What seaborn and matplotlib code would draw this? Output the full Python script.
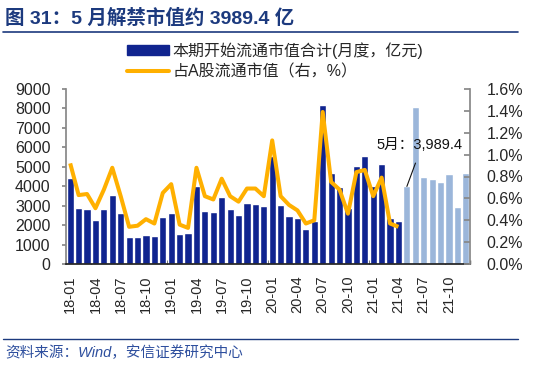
import numpy as np
import pandas as pd
import matplotlib
matplotlib.use("Agg")
import matplotlib.pyplot as plt
import seaborn as sns
from matplotlib.patches import Patch
from matplotlib.lines import Line2D
from matplotlib.ticker import FuncFormatter, FixedLocator

months = [f"{y}-{m:02d}" for y in (18, 19, 20, 21) for m in range(1, 13)]
unlock_value = [4400, 2880, 2820, 2240, 2850, 3530, 2610, 1380, 1390, 1500, 1420, 2400,
                2640, 1550, 1590, 4010, 2740, 2670, 3430, 2810, 2520, 3120, 3090, 2970,
                5560, 3040, 2490, 2390, 1780, 2220, 8175, 4660, 3975, 2900, 5040, 5570,
                4010, 5130, 2370, 2230, 3989.4, 8055, 4456, 4390, 4200, 4610, 2914, 4660]
n_actual = 40
share_pct = [0.92, 0.63, 0.64, 0.51, 0.68, 0.88, 0.62, 0.34, 0.35, 0.41, 0.37, 0.65,
             0.73, 0.36, 0.33, 0.88, 0.62, 0.59, 0.78, 0.62, 0.57, 0.69, 0.69, 0.62,
             1.13, 0.62, 0.54, 0.49, 0.37, 0.40, 1.39, 0.75, 0.68, 0.46, 0.84, 0.86,
             0.62, 0.79, 0.37, 0.34]
title = "图 31：5 月解禁市值约 3989.4 亿"
bar_label = "本期开始流通市值合计(月度，亿元)"
line_label = "占A股流通市值（右，%）"
source = "资料来源：Wind，安信证券研究中心"
annot = "5月：3,989.4"

DARK = "#10248F"
LIGHT = "#9BB6DA"
ORANGE = "#FFB000"
NAVY = "#1C3A7E"

sns.set_theme(style="white")
plt.rcParams["font.family"] = ["Liberation Sans", "Noto Sans CJK SC", "DejaVu Sans"]

fig = plt.figure(figsize=(5.39, 3.75), dpi=100)
ax = fig.add_axes([66/539, 1-264/375, (470-66)/539, 175/375])

df = pd.DataFrame({"month": months, "value": unlock_value})
colors = [DARK if i < n_actual else LIGHT for i in range(len(months))]
sns.barplot(data=df, x="month", y="value", hue="month", palette=colors,
            legend=False, width=0.86, ax=ax, saturation=1)
ax.set_xlim(-0.5, len(months) - 0.5)
ax.set_ylim(0, 9000)
ax.set_yticks(np.arange(0, 9001, 1000))
ax.set_xlabel("")
ax.set_ylabel("")
ax.set_xticks(range(0, len(months), 3))
ax.set_xticklabels(months[::3], rotation=90, fontsize=10.5)
ax.xaxis.set_minor_locator(FixedLocator(np.arange(-0.5, len(months), 3)))
ax.tick_params(axis="x", which="major", length=0, pad=8)
ax.tick_params(axis="x", which="minor", direction="in", length=3, color="#333333", bottom=True)
ax.tick_params(axis="y", labelsize=11.5, length=3, direction="out", color="#888888", left=True, pad=8)
for s in ("top", "right"):
    ax.spines[s].set_visible(False)
ax.spines["left"].set_color("#888888")
ax.spines["bottom"].set_color("#222222")

ax2 = ax.twinx()
line_df = pd.DataFrame({"x": np.arange(n_actual), "pct": share_pct})
sns.lineplot(data=line_df, x="x", y="pct", color=ORANGE, linewidth=2.9, ax=ax2,
             solid_joinstyle="round", solid_capstyle="butt")
ax2.set_ylim(0, 1.6)
ax2.set_yticks(np.arange(0, 1.61, 0.2))
ax2.yaxis.set_major_formatter(FuncFormatter(lambda v, p: f"{v:.1f}%"))
ax2.set_ylabel("")
ax2.set_xlabel("")
ax2.tick_params(axis="y", labelsize=11.5, length=4, direction="in", color="#888888", right=True, pad=12)
for s in ("top", "left", "bottom"):
    ax2.spines[s].set_visible(False)
ax2.spines["right"].set_color("#888888")
ax2.set_xlim(-0.5, len(months) - 0.5)

ax.annotate(annot, xy=(n_actual, unlock_value[n_actual]), xytext=(36.4, 6120),
            textcoords="data", ha="left", va="center", fontsize=10.5, color="#111111",
            arrowprops=dict(arrowstyle="-", color="#111111", lw=0.8, relpos=(0.5, 0.0),
                            shrinkA=6, shrinkB=0))

handles = [Patch(facecolor=DARK, edgecolor=DARK),
           Line2D([0], [0], color=ORANGE, lw=2.9)]
fig.legend(handles, [bar_label, line_label], loc="upper left",
           bbox_to_anchor=(127/539, 1-42/375), frameon=False, fontsize=11.5,
           handlelength=2.6, handleheight=0.55, handletextpad=0.25, labelspacing=0.35,
           borderpad=0, borderaxespad=0)

fig.text(5/539, 1-18/375, title, fontsize=14, fontweight="bold", color=NAVY,
         ha="left", va="center")
fig.add_artist(Line2D([3/539, 518/539], [1-32/375, 1-32/375], color=NAVY, lw=1.2))
fig.add_artist(Line2D([3/539, 518/539], [1-339/375, 1-339/375], color=NAVY, lw=1.0))
fig.text(5/539, 1-353/375, source, fontsize=10.5, style="italic", color="#2E4F9E",
         ha="left", va="center")

fig.savefig("out.png", dpi=100)
